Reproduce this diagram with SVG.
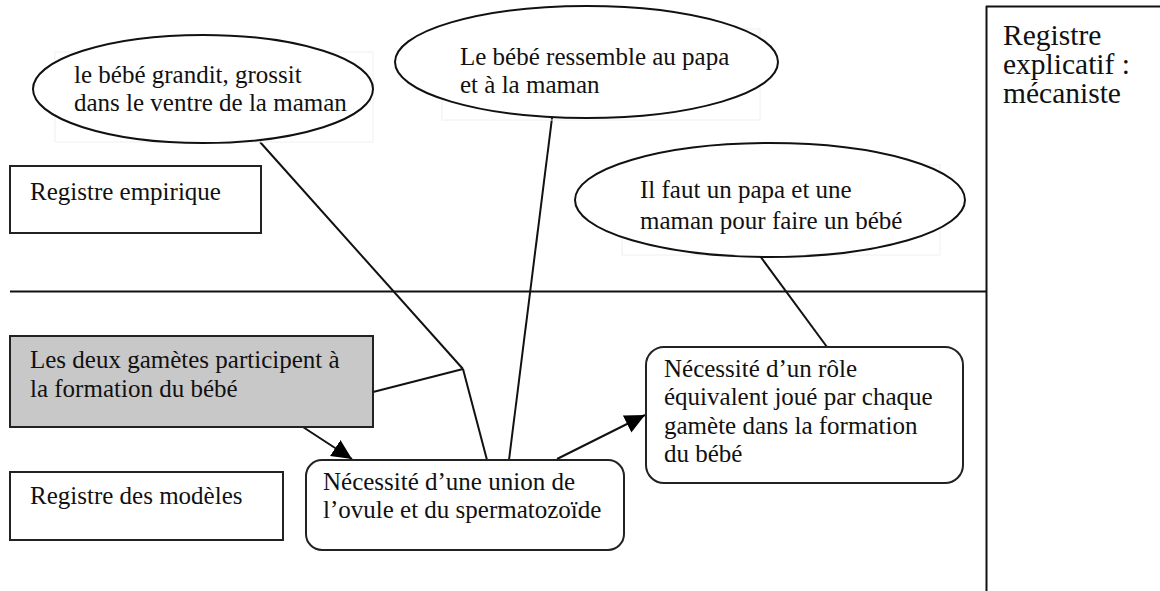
<svg xmlns="http://www.w3.org/2000/svg" width="1160" height="591" viewBox="0 0 1160 591">
<style>
text{font-family:"Liberation Serif","Times New Roman",serif;font-size:25px;fill:#111}
.big{font-size:29.5px}
.ell{fill:#fff;stroke:#111;stroke-width:2}
.faint{fill:none;stroke:#f0f0f0;stroke-width:1}
.box{fill:#fff;stroke:#222;stroke-width:2}
.gray{fill:#c8c8c8;stroke:#222;stroke-width:2}
.ln{fill:none;stroke:#111;stroke-width:2}
</style>
<defs>
<marker id="ah" markerUnits="userSpaceOnUse" markerWidth="22" markerHeight="20" refX="20" refY="9.5" orient="auto">
<path d="M0,0 L20,9.5 L0,19 z" fill="#000"/>
</marker>
</defs>
<rect width="1160" height="591" fill="#fff"/>

<g id="frame">
<line class="ln" x1="10" y1="291.5" x2="987" y2="291.5"/>
<line class="ln" x1="986.5" y1="6" x2="986.5" y2="591"/>
<line class="ln" x1="986" y1="6.5" x2="1160" y2="6.5"/>
</g>

<g id="mecaniste">
<text class="big" x="1003" y="45">Registre</text>
<text class="big" x="1003" y="74">explicatif :</text>
<text class="big" x="1003" y="103">mécaniste</text>
</g>

<g id="connectors">
<line class="ln" x1="260" y1="142" x2="463" y2="369"/>
<line class="ln" x1="373" y1="392" x2="463" y2="369"/>
<line class="ln" x1="463" y1="369" x2="487" y2="460"/>
<line class="ln" x1="552" y1="118" x2="509" y2="460"/>
<line class="ln" x1="760" y1="256" x2="827" y2="347"/>
<line class="ln" x1="283" y1="414" x2="352" y2="459" marker-end="url(#ah)"/>
<line class="ln" x1="557" y1="459" x2="645" y2="415" marker-end="url(#ah)"/>
</g>

<g id="e1">
<rect class="faint" x="55" y="52" width="318" height="90"/>
<ellipse class="ell" cx="203" cy="89" rx="170" ry="54"/>
<text x="74" y="83">le bébé grandit, grossit</text>
<text x="74" y="111">dans le ventre de la maman</text>
</g>

<g id="e2">
<rect class="faint" x="442" y="29" width="318" height="91"/>
<ellipse class="ell" cx="586.5" cy="62" rx="191.5" ry="56"/>
<text x="460" y="65">Le bébé ressemble au papa</text>
<text x="460" y="93">et à la maman</text>
</g>

<g id="e3">
<rect class="faint" x="622" y="165" width="318" height="90"/>
<ellipse class="ell" cx="770" cy="200" rx="195" ry="57"/>
<text x="640" y="198">Il faut un papa et une</text>
<text x="640" y="229">maman pour faire un bébé</text>
</g>

<g id="empirique">
<rect class="box" x="10" y="166" width="251" height="67"/>
<text x="30" y="200">Registre empirique</text>
</g>

<g id="gametes">
<rect class="gray" x="10" y="336" width="363" height="91"/>
<text x="30" y="368">Les deux gamètes participent à</text>
<text x="30" y="397">la formation du bébé</text>
</g>

<g id="modeles">
<rect class="box" x="10" y="472" width="273" height="68"/>
<text x="30" y="504">Registre des modèles</text>
</g>

<g id="union">
<rect class="box" x="306" y="460" width="318" height="90" rx="16"/>
<text x="323" y="490">Nécessité d’une union de</text>
<text x="323" y="518">l’ovule et du spermatozoïde</text>
</g>

<g id="role">
<rect class="box" x="646" y="347" width="317" height="136" rx="18"/>
<text x="664" y="377">Nécessité d’un rôle</text>
<text x="664" y="405">équivalent joué par chaque</text>
<text x="664" y="434">gamète dans la formation</text>
<text x="664" y="462">du bébé</text>
</g>
</svg>
